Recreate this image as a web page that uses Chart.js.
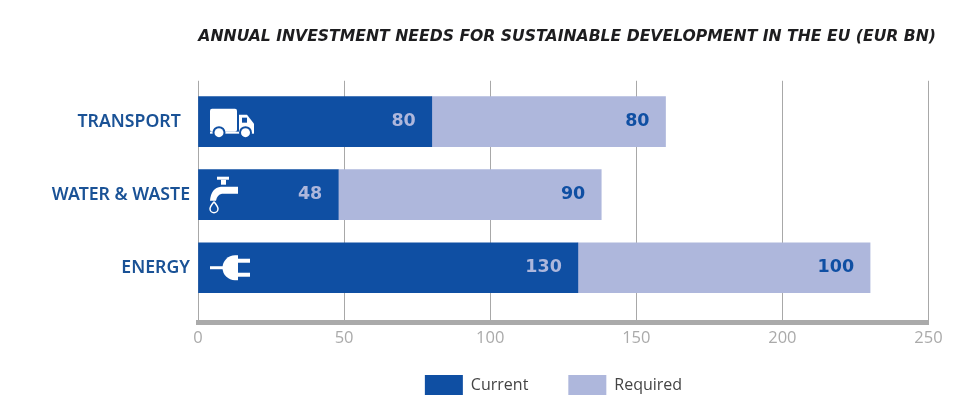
<!DOCTYPE html>
<html lang="en">
<head>
  <meta charset="UTF-8">
  <title>Annual investment needs</title>
  <script src="https://cdn.jsdelivr.net/npm/chart.js"></script>
  <style>
    body { margin: 0; background: #fff; }
    #chart { display: block; }
  </style>
</head>
<body>
  <canvas id="chart" width="960" height="413"></canvas>
  <script>
    const categories = ['TRANSPORT', 'WATER & WASTE', 'ENERGY'];
    const rows = [0, 1, 2];
    const current = [80, 48, 130];
    const required = [80, 90, 100];
    const xTicks = [0, 50, 100, 150, 200, 250];

    const BLUE = '#0f4fa3';
    const LILAC = '#aeb7dc';

    // little white pictograms, coordinates are relative to the bar start / centre
    function drawIcon(ctx, name) {
      ctx.fillStyle = '#fff';
      ctx.strokeStyle = '#fff';
      if (name === 'TRANSPORT') {
        ctx.beginPath();
        ctx.roundRect(12, -13, 27, 23, 2);
        ctx.fill();
        ctx.beginPath();
        ctx.moveTo(41, -7); ctx.lineTo(49, -7); ctx.lineTo(56, 2); ctx.lineTo(56, 11);
        ctx.lineTo(41, 11); ctx.closePath();
        ctx.fill();
        ctx.fillRect(12, 10, 44, 2);
        [21, 47.5].forEach(x => {
          ctx.fillStyle = BLUE;
          ctx.beginPath(); ctx.arc(x, 11, 6.5, 0, 7); ctx.fill();
          ctx.fillStyle = '#fff';
          ctx.beginPath(); ctx.arc(x, 11, 4.5, 0, 7); ctx.fill();
        });
        ctx.fillStyle = BLUE;
        ctx.fillRect(44, -4, 5, 5);
      } else if (name === 'WATER & WASTE') {
        ctx.fillRect(19, -18, 12, 3);
        ctx.fillRect(23, -15, 5, 5);
        ctx.beginPath();
        ctx.moveTo(40, -8); ctx.lineTo(40, -1); ctx.lineTo(24, -1);
        ctx.quadraticCurveTo(19, 0, 18, 6); ctx.lineTo(12, 6);
        ctx.quadraticCurveTo(13, -7, 23, -8);
        ctx.closePath(); ctx.fill();
        ctx.lineWidth = 1.5;
        ctx.beginPath();
        ctx.moveTo(16, 7);
        ctx.quadraticCurveTo(20, 12, 20, 14);
        ctx.arc(16, 14, 4, 0, Math.PI);
        ctx.quadraticCurveTo(12, 12, 16, 7);
        ctx.stroke();
      } else {
        ctx.fillRect(12, -1.5, 14, 3);
        ctx.beginPath();
        ctx.arc(37, 0, 12.5, Math.PI / 2, Math.PI * 1.5);
        ctx.closePath(); ctx.fill();
        ctx.fillRect(37, -12.5, 3, 25);
        ctx.fillRect(40, -9, 12, 4);
        ctx.fillRect(40, 5, 12, 4);
      }
    }

    const extras = {
      id: 'extras',
      afterLayout(chart) {
        // legend sits under the plot, not under the page centre
        chart.legend.left = 171;
        // x box is squeezed for the layout, give the labels room again or they get clipped
        chart.scales.x.bottom += 25;
      },
      afterDatasetsDraw(chart) {
        const ctx = chart.ctx;
        ctx.save();
        ctx.font = 'bold 17.5px "DejaVu Sans"';
        ctx.textAlign = 'right';
        ctx.textBaseline = 'middle';
        chart.data.datasets.forEach((ds, d) => {
          chart.getDatasetMeta(d).data.forEach((bar, i) => {
            ctx.fillStyle = d === 0 ? LILAC : BLUE;
            ctx.fillText(ds.data[i].x, bar.x - 16, bar.y);
          });
        });
        chart.getDatasetMeta(0).data.forEach((bar, i) => {
          ctx.save();
          ctx.translate(chart.scales.x.getPixelForValue(0), bar.y);
          drawIcon(ctx, categories[i]);
          ctx.restore();
        });
        ctx.restore();
      }
    };

    new Chart(document.getElementById('chart'), {
      type: 'bar',
      data: {
        datasets: [
          { label: 'Current', data: rows.map(r => ({ x: current[r], y: r })), backgroundColor: BLUE, barThickness: 50 },
          { label: 'Required', data: rows.map(r => ({ x: required[r], y: r })), backgroundColor: LILAC, barThickness: 50 }
        ]
      },
      plugins: [extras],
      options: {
        indexAxis: 'y',
        responsive: false,
        animation: false,
        layout: { padding: { right: 24, bottom: 8 } },
        scales: {
          x: {
            stacked: true,
            min: 0,
            max: 250,
            afterBuildTicks: s => { s.ticks = xTicks.map(v => ({ value: v })); },
            afterFit: s => { s.height = 12.5; s.paddingRight = 31.5; },
            border: { color: '#aaaaaa', width: 5 },
            grid: { color: '#a8a8a8', lineWidth: 1, drawTicks: false },
            ticks: { color: '#aaaaaa', padding: 6, maxRotation: 0, font: { family: 'Open Sans', size: 16.5 } }
          },
          y: {
            type: 'linear',
            stacked: true,
            reverse: true,
            offset: false,
            min: -0.56,
            max: 2.75,
            afterFit: s => { s.width = 198; },
            border: { display: false },
            grid: { display: false, offset: false },
            ticks: {
              stepSize: 1,
              includeBounds: false,
              padding: 0,
              color: '#1a5296',
              font: { family: 'Noto Sans', size: 17.7, weight: '600' },
              // TRANSPORT stands a bit further from the axis in the original
              callback: v => v === 0 ? categories[v] + '  ' : categories[v]
            }
          }
        },
        plugins: {
          tooltip: { enabled: false },
          title: {
            display: true,
            text: 'ANNUAL INVESTMENT NEEDS FOR SUSTAINABLE DEVELOPMENT IN THE EU (EUR BN)',
            align: 'end',
            color: '#1d1d1f',
            font: { family: 'DejaVu Sans', size: 15.65, style: 'italic', weight: 'bold' },
            padding: { top: 28, bottom: 34 }
          },
          legend: {
            position: 'bottom',
            labels: {
              boxWidth: 38,
              boxHeight: 20,
              padding: 40,
              color: '#444444',
              font: { family: 'Open Sans', size: 16 }
            }
          }
        }
      }
    });
  </script>
</body>
</html>
